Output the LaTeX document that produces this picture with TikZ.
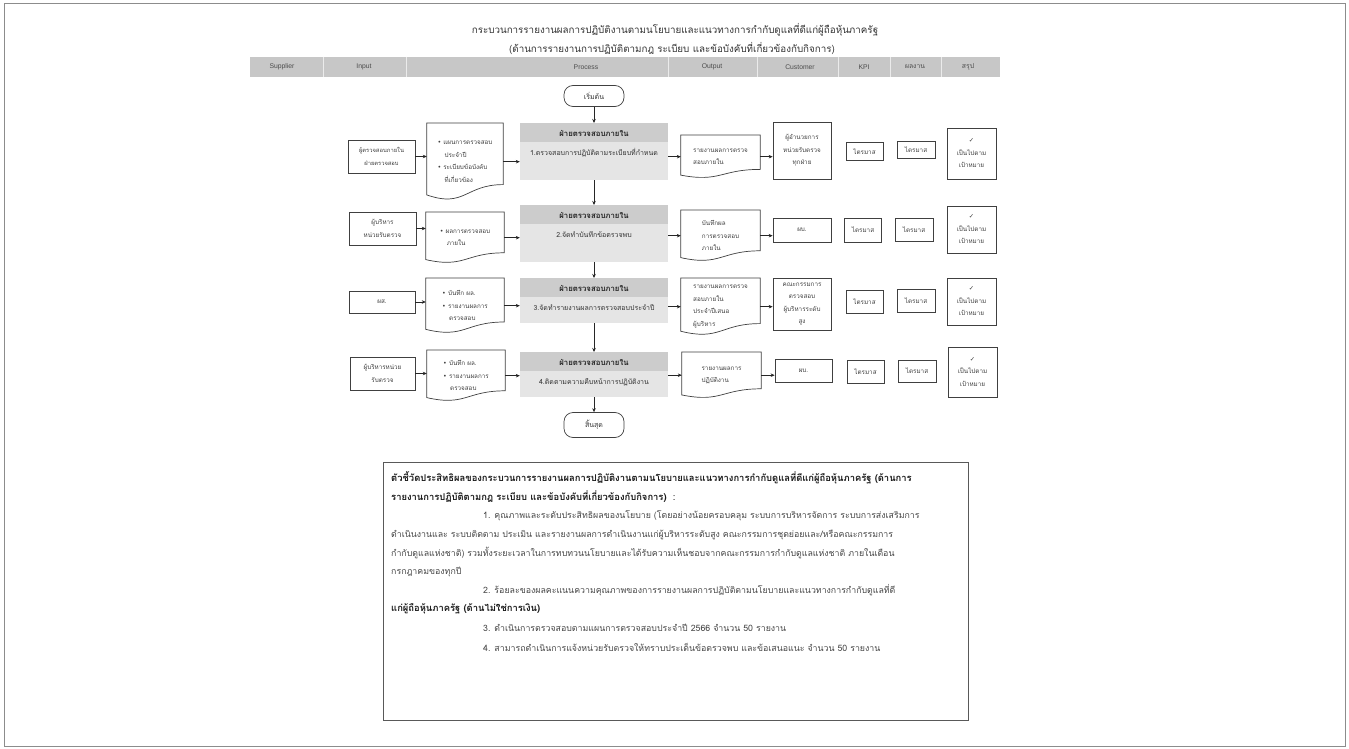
\documentclass[tikz,border=0pt]{standalone}
\usepackage{fontspec}
\setmainfont{Liberation Sans}
\newfontfamily\thai[Script=Thai]{Loma}
\newfontfamily\symf{DejaVu Sans}
\usetikzlibrary{calc,arrows.meta}
\newcommand\bul{{\symf\char"2022}\ }
\newcommand\chk{{\symf\char"2713}}
\newcommand\docnode[6]{%
  \node[docbox, minimum width=#4pt, minimum height=#5pt, anchor=north] (#1) at (#2,#3) {#6};
  \draw[docline] (#1.north west) -- (#1.north east) -- ($(#1.north east)+(0,#5*0.80)$)
    .. controls ($(#1.north)+(0,#5*0.80)$) and ($(#1.north)+(0,#5*1.107)$) .. ($(#1.north west)+(0,#5*0.934)$) -- cycle;
}
\newcommand\procnode[5]{% name, ytop, h, head, text
  \node[procbox, minimum width=148pt, minimum height=#3pt, anchor=north] (#1) at (594,#2) {};
  \fill[black!20] (#1.north west) rectangle ($(#1.north east)+(0,19)$);
  \node[prochead] (#1h) at ($(#1.north)+(0,10)$) {#4};
  \node[proctext] (#1t) at ($(#1.north)+(0,30)$) {#5};
}
\begin{document}
\begin{tikzpicture}[x=1pt,y=-1pt,
  box/.style={draw=black!75, line width=0.7pt, fill=white, inner sep=1pt, align=center, font=\thai\fontsize{6.3}{12.5}\selectfont, text=black!75},
  docbox/.style={inner sep=3pt, align=left, font=\thai\fontsize{6.3}{12.5}\selectfont, text=black!75},
  docline/.style={draw=black!75, line width=0.7pt},
  procbox/.style={fill=black!10, inner sep=0pt},
  prochead/.style={font=\thai\bfseries\fontsize{7.8}{9}\selectfont, text=black!85},
  proctext/.style={font=\thai\fontsize{7}{9}\selectfont, text=black!80},
  term/.style={draw=black!75, line width=0.7pt, rounded corners=9pt, minimum width=60pt, font=\thai\fontsize{7}{8}\selectfont, text=black!80},
  conn/.style={-{Stealth[length=4pt,width=3.5pt]}, line width=0.6pt, draw=black!85},
  hdr/.style={font=\fontsize{6.8}{8}\selectfont, text=black!70},
  body/.style={anchor=west, inner sep=0pt, font=\thai\fontsize{8.8}{10}\selectfont, text=black!72},
  bodyb/.style={body, font=\thai\bfseries\fontsize{9.4}{10}\selectfont, text=black!90},
]
\useasboundingbox (0,0) rectangle (1349,749);
\fill[white] (0,0) rectangle (1349,749);
\draw[black!45, line width=0.7pt] (4,3) rectangle (1345,746);

% title
\node[font=\thai\fontsize{9.8}{11}\selectfont, text=black!80] (t1) at (675,30) {กระบวนการรายงานผลการปฏิบัติงานตามนโยบายและแนวทางการกำกับดูแลที่ดีแก่ผู้ถือหุ้นภาครัฐ};
\node[font=\thai\fontsize{9.8}{11}\selectfont, text=black!80] (t2) at (672,48) {(ด้านการรายงานการปฏิบัติตามกฎ  ระเบียบ  และข้อบังคับที่เกี่ยวข้องกับกิจการ)};

% header bar
\fill[black!22] (250,57) rectangle (1000,77);
\foreach \xx in {323,406,668,757,838,890,941} \draw[black!8, line width=0.8pt] (\xx,57) -- (\xx,77);
\node[hdr] (h1) at (282,67) {Supplier};
\node[hdr] (h2) at (364,67) {Input};
\node[hdr] (h3) at (586,67) {Process};
\node[hdr] (h4) at (712,67) {Output};
\node[hdr] (h5) at (800,67) {Customer};
\node[hdr] (h6) at (864,67) {KPI};
\node[hdr, font=\thai\fontsize{6.8}{8}\selectfont] (h7) at (915,67) {ผลงาน};
\node[hdr, font=\thai\fontsize{6.8}{8}\selectfont] (h8) at (968,67) {สรุป};

% terminals
\node[term, minimum height=21pt] (start) at (594,96) {เริ่มต้น};
\node[term, minimum height=25pt] (stop) at (594,425) {สิ้นสุด};

% process boxes
\procnode{p1}{123}{57}{ฝ่ายตรวจสอบภายใน}{1.ตรวจสอบการปฏิบัติตามระเบียบที่กำหนด}
\procnode{p2}{205}{57}{ฝ่ายตรวจสอบภายใน}{2.จัดทำบันทึกข้อตรวจพบ}
\procnode{p3}{278}{45}{ฝ่ายตรวจสอบภายใน}{3.จัดทำรายงานผลการตรวจสอบประจำปี}
\procnode{p4}{352}{45}{ฝ่ายตรวจสอบภายใน}{4.ติดตามความคืบหน้าการปฏิบัติงาน}

% row 1
\node[box, minimum width=67pt, minimum height=33pt, font=\thai\fontsize{5.8}{12.5}\selectfont] (s1) at (381.5,156.5) {ผู้ตรวจสอบภายใน\\ฝ่ายตรวจสอบ};
\docnode{i1}{465}{123}{76}{77}{\bul แผนการตรวจสอบ\\\hspace*{7pt}ประจำปี\\\bul ระเบียบข้อบังคับ\\\hspace*{7pt}ที่เกี่ยวข้อง}
\docnode{o1}{720.5}{135}{79}{43}{รายงานผลการตรวจ\\สอบภายใน}
\node[box, minimum width=58pt, minimum height=57pt] (c1) at (802,150.5) {ผู้อำนวยการ\\หน่วยรับตรวจ\\ทุกฝ่าย};
\node[box, minimum width=37pt, minimum height=18pt] (k1) at (864.5,151.5) {ไตรมาส};
\node[box, minimum width=38pt, minimum height=17pt] (r1) at (916,150) {ไตรมาส};
\node[box, minimum width=49pt, minimum height=51pt] (z1) at (971.5,153.5) {\chk\\เป็นไปตาม\\เป้าหมาย};

% row 2
\node[box, minimum width=67pt, minimum height=33pt] (s2) at (382.5,228.5) {ผู้บริหาร\\หน่วยรับตรวจ};
\docnode{i2}{465}{212}{78}{51}{\bul ผลการตรวจสอบ\\\hspace*{7pt}ภายใน}
\docnode{o2}{720.5}{210}{79}{51}{บันทึกผล\\การตรวจสอบ\\ภายใน}
\node[box, minimum width=58pt, minimum height=24pt] (c2) at (802,230) {ผบ.};
\node[box, minimum width=37pt, minimum height=24pt] (k2) at (863,230) {ไตรมาส};
\node[box, minimum width=38pt, minimum height=23pt] (r2) at (914,229.5) {ไตรมาส};
\node[box, minimum width=49pt, minimum height=47pt] (z2) at (971.5,229.5) {\chk\\เป็นไปตาม\\เป้าหมาย};

% row 3
\node[box, minimum width=66pt, minimum height=22pt] (s3) at (382,302) {ผส.};
\docnode{i3}{465}{278}{78}{55}{\bul บันทึก ผล.\\\bul รายงานผลการ\\\hspace*{7pt}ตรวจสอบ}
\docnode{o3}{720.5}{278}{79}{57}{รายงานผลการตรวจ\\สอบภายใน\\ประจำปีเสนอ\\ผู้บริหาร}
\node[box, minimum width=58pt, minimum height=52pt] (c3) at (802,304) {คณะกรรมการ\\ตรวจสอบ\\ผู้บริหารระดับ\\สูง};
\node[box, minimum width=37pt, minimum height=23pt] (k3) at (864.5,301.5) {ไตรมาส};
\node[box, minimum width=38pt, minimum height=23pt] (r3) at (916,301) {ไตรมาส};
\node[box, minimum width=49pt, minimum height=47pt] (z3) at (971.5,301.5) {\chk\\เป็นไปตาม\\เป้าหมาย};

% row 4
\node[box, minimum width=65pt, minimum height=33pt] (s4) at (382.5,373.5) {ผู้บริหารหน่วย\\รับตรวจ};
\docnode{i4}{466}{350}{78}{51}{\bul บันทึก ผล.\\\bul รายงานผลการ\\\hspace*{7pt}ตรวจสอบ}
\docnode{o4}{721.5}{352}{79}{46}{รายงานผลการ\\ปฏิบัติงาน}
\node[box, minimum width=57pt, minimum height=23pt] (c4) at (803.5,370.5) {ผบ.};
\node[box, minimum width=37pt, minimum height=23pt] (k4) at (865.5,371.5) {ไตรมาส};
\node[box, minimum width=38pt, minimum height=22pt] (r4) at (917,371) {ไตรมาส};
\node[box, minimum width=49pt, minimum height=50pt] (z4) at (972.5,372) {\chk\\เป็นไปตาม\\เป้าหมาย};

% vertical connectors
\draw[conn] (start) -- (p1);
\draw[conn] (p1) -- (p2);
\draw[conn] (p2) -- (p3);
\draw[conn] (p3) -- (p4);
\draw[conn] (p4) -- (stop);

% horizontal connectors
\foreach \r in {1,2,3,4}{
  \draw[conn] (s\r.east) -- (s\r.east -| i\r.west);
  \draw[conn] (i\r.east) -- (i\r.east -| p\r.west);
  \draw[conn] (p\r.east |- o\r.west) -- (o\r.west);
  \draw[conn] (o\r.east) -- (o\r.east -| c\r.west);
}

% bottom text box
\draw[black!65, line width=0.8pt] (383,462) rectangle (968,720);
\node[bodyb] (b1) at (391,478) {ตัวชี้วัดประสิทธิผลของกระบวนการรายงานผลการปฏิบัติงานตามนโยบายและแนวทางการกำกับดูแลที่ดีแก่ผู้ถือหุ้นภาครัฐ  (ด้านการ};
\node[bodyb] (b2) at (391,497) {รายงานการปฏิบัติตามกฎ  ระเบียบ  และข้อบังคับที่เกี่ยวข้องกับกิจการ)\mdseries\ \ :};
\node[body] (b3) at (483,516) {1. คุณภาพและระดับประสิทธิผลของนโยบาย (โดยอย่างน้อยครอบคลุม ระบบการบริหารจัดการ ระบบการส่งเสริมการ};
\node[body] (b4) at (391,535) {ดำเนินงานและ ระบบติดตาม ประเมิน และรายงานผลการดำเนินงานแก่ผู้บริหารระดับสูง คณะกรรมการชุดย่อยและ/หรือคณะกรรมการ};
\node[body] (b5) at (391,553) {กำกับดูแลแห่งชาติ) รวมทั้งระยะเวลาในการทบทวนนโยบายและได้รับความเห็นชอบจากคณะกรรมการกำกับดูแลแห่งชาติ ภายในเดือน};
\node[body] (b6) at (391,572) {กรกฎาคมของทุกปี};
\node[body] (b7) at (483,590) {2. ร้อยละของผลคะแนนความคุณภาพของการรายงานผลการปฏิบัติตามนโยบายและแนวทางการกำกับดูแลที่ดี};
\node[bodyb] (b8) at (391,609) {แก่ผู้ถือหุ้นภาครัฐ (ด้านไม่ใช่การเงิน)};
\node[body] (b9) at (483,628) {3. ดำเนินการตรวจสอบตามแผนการตรวจสอบประจำปี 2566 จำนวน 50 รายงาน};
\node[body] (b10) at (483,647) {4. สามารถดำเนินการแจ้งหน่วยรับตรวจให้ทราบประเด็นข้อตรวจพบ และข้อเสนอแนะ จำนวน 50 รายงาน};
\end{tikzpicture}
\end{document}
